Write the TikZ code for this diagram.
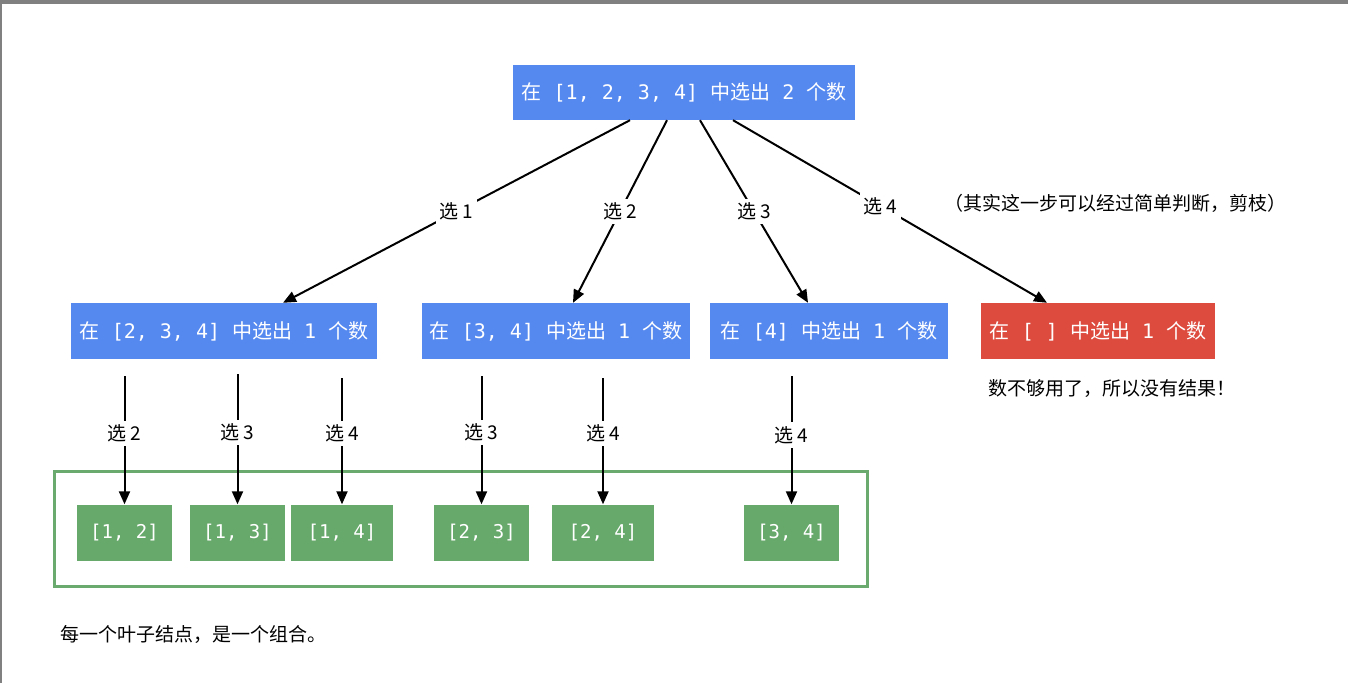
\documentclass[tikz,border=0pt]{standalone}
\usepackage{fontspec}
\setmainfont{Noto Sans CJK SC}
\newfontfamily\monofont{DejaVu Sans Mono}
\usetikzlibrary{arrows.meta}
\definecolor{boxblue}{RGB}{86,137,240}
\definecolor{boxred}{RGB}{221,74,62}
\definecolor{boxgreen}{RGB}{103,168,107}
\definecolor{framegreen}{RGB}{106,170,110}
\definecolor{edgegray}{RGB}{128,128,128}
\newcommand{\mn}[1]{{\monofont #1}}
\tikzset{
  bluebox/.style={fill=boxblue, text=white, inner sep=0pt, font=\fontsize{20}{24}\selectfont},
  redbox/.style={fill=boxred, text=white, inner sep=0pt, font=\fontsize{20}{24}\selectfont},
  leafbox/.style={fill=boxgreen, text=white, inner sep=0pt, minimum height=56pt, font=\fontsize{19}{24}\selectfont\monofont},
  conn/.style={line width=2pt, -{Triangle[length=13pt,width=11pt]}},
  lbl/.style={fill=white, text=black, inner sep=4pt, font=\fontsize{19}{22}\selectfont},
  note/.style={text=black, inner sep=0pt, font=\fontsize{19}{22}\selectfont}
}
\begin{document}
\begin{tikzpicture}[x=1pt, y=-1pt]
\useasboundingbox (0,0) rectangle (1348,683);
\fill[white] (0,0) rectangle (1348,683);
\fill[edgegray] (0,0) rectangle (1348,4);
\fill[edgegray] (0,0) rectangle (2,683);

% top node
\node[bluebox, minimum width=342pt, minimum height=55pt] (top) at (684,92.5) {在\mn{\ [1, 2, 3, 4]\ }中选出\mn{\ 2\ }个数};

% middle nodes
\node[bluebox, minimum width=306pt, minimum height=56pt] (b1) at (224,331) {在\mn{\ [2, 3, 4]\ }中选出\mn{\ 1\ }个数};
\node[bluebox, minimum width=268pt, minimum height=56pt] (b2) at (556,331) {在\mn{\ [3, 4]\ }中选出\mn{\ 1\ }个数};
\node[bluebox, minimum width=238pt, minimum height=56pt] (b3) at (829,331) {在\mn{\ [4]\ }中选出\mn{\ 1\ }个数};
\node[redbox, minimum width=234pt, minimum height=56pt] (b4) at (1098,331) {在\mn{\ [ ]\ }中选出\mn{\ 1\ }个数};

% leaf frame
\draw[framegreen, line width=3pt] (54,471) rectangle (867,586);

% leaves
\node[leafbox, minimum width=95pt] (l12) at (124.5,532.5) {[1, 2]};
\node[leafbox, minimum width=95pt] (l13) at (237.5,532.5) {[1, 3]};
\node[leafbox, minimum width=102pt] (l14) at (342,532.5) {[1, 4]};
\node[leafbox, minimum width=95pt] (l23) at (481.5,532.5) {[2, 3]};
\node[leafbox, minimum width=102pt] (l24) at (603,532.5) {[2, 4]};
\node[leafbox, minimum width=95pt] (l34) at (791.5,532.5) {[3, 4]};

% top -> middle
\draw[conn] ([xshift=-54pt]top.south) -- node[lbl, pos=0.5] {选 1} ([xshift=59pt]b1.north);
\draw[conn] ([xshift=-17pt]top.south) -- node[lbl, pos=0.5] {选 2} ([xshift=17pt]b2.north);
\draw[conn] ([xshift=16pt]top.south) -- node[lbl, pos=0.5] {选 3} ([xshift=-21pt]b3.north);
\draw[conn] ([xshift=49pt]top.south) -- node[lbl, pos=0.47] {选 4} ([xshift=-51pt]b4.north);

% middle -> leaves
\coordinate (s12) at (124.5,376);
\coordinate (s13) at (237.5,374);
\coordinate (s14) at (342,378);
\coordinate (s23) at (481.5,376);
\coordinate (s24) at (603,378);
\coordinate (s34) at (791.5,376);
\draw[conn] (s12) -- node[lbl, pos=0.45] {选 2} (l12.north);
\draw[conn] (s13) -- node[lbl, pos=0.45] {选 3} (l13.north);
\draw[conn] (s14) -- node[lbl, pos=0.44] {选 4} (l14.north);
\draw[conn] (s23) -- node[lbl, pos=0.44] {选 3} (l23.north);
\draw[conn] (s24) -- node[lbl, pos=0.44] {选 4} (l24.north);
\draw[conn] (s34) -- node[lbl, pos=0.46] {选 4} (l34.north);

% notes
\node[note, anchor=west] (n1) at (944,203) {（其实这一步可以经过简单判断，剪枝）};
\node[note, anchor=west] (n2) at (988,389) {数不够用了，所以没有结果！};
\node[note, anchor=west] (n3) at (60,634) {每一个叶子结点，是一个组合。};
\end{tikzpicture}
\end{document}
